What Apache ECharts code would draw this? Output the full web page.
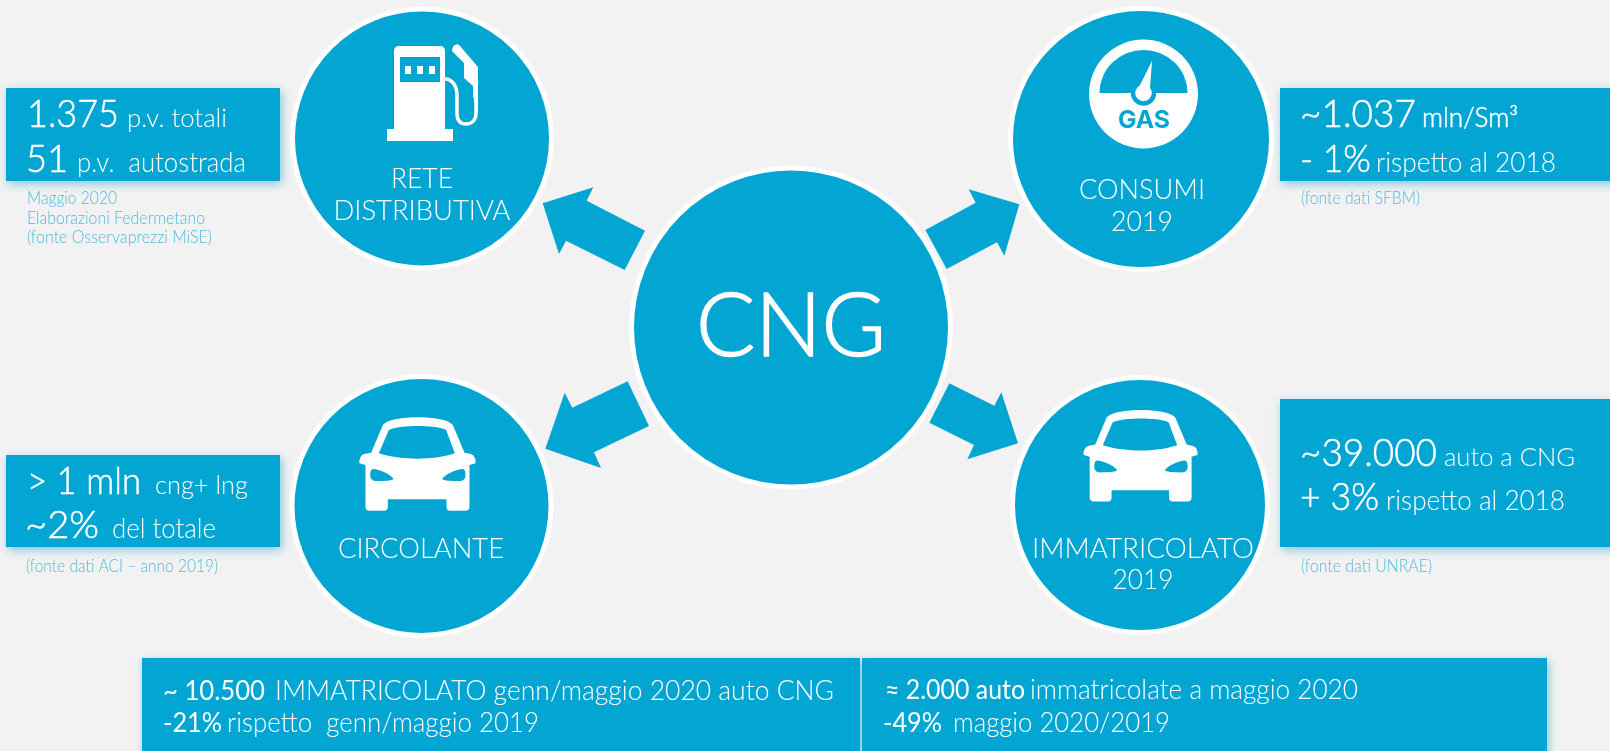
<!DOCTYPE html>
<html>
<head>
<meta charset="utf-8">
<script src="https://cdn.jsdelivr.net/npm/echarts@6/dist/echarts.min.js"></script>
<style>html,body{margin:0;padding:0;background:#f2f2f2}</style>
</head>
<body>
<div id="main" style="width:1610px;height:751px"></div>
<script type="text/javascript">
    var myChart = echarts.init(document.getElementById('main'));

    // testi
    var hubName = ['CNG'];
    var reteName = ['RETE', 'DISTRIBUTIVA'];
    var consumiName = ['CONSUMI', '2019'];
    var circolanteName = ['CIRCOLANTE'];
    var immatricolatoName = ['IMMATRICOLATO', '2019'];
    var reteValues = ['1.375', 'p.v. totali', '51', 'p.v.  autostrada'];
    var consumiValues = ['~1.037', 'mln/Sm³', '- 1%', 'rispetto al 2018'];
    var circolanteValues = ['> 1 mln', 'cng+ lng', '~2%', 'del totale'];
    var immatricolatoValues = ['~39.000', 'auto a CNG', '+ 3%', 'rispetto al 2018'];
    var genMagValues = ['~ 10.500', 'IMMATRICOLATO genn/maggio 2020 auto CNG', '-21%', 'rispetto  genn/maggio 2019'];
    var maggioValues = ['≈ 2.000 auto', 'immatricolate a maggio 2020', '-49%', 'maggio 2020/2019'];
    var reteNotes = ['Maggio 2020', 'Elaborazioni Federmetano', '(fonte Osservaprezzi MiSE)'];
    var consumiNotes = ['(fonte dati SFBM)'];
    var circolanteNotes = ['(fonte dati ACI – anno 2019)'];
    var immatricolatoNotes = ['(fonte dati UNRAE)'];

    var BLUE = '#03a6d2';
    var NOTE = '#4fbbd9';
    var els = [];
    var shapeCount = 0;
    var ruler = document.createElement('canvas').getContext('2d');

    // w = larghezza voluta: il testo originale e' piu' stretto di Lato
    function txt(x, base, s, size, w, color, weight, align, family, thick) {
        weight = weight || 300;
        family = family || 'Lato';
        color = color || '#fff';
        ruler.font = weight + ' ' + size + 'px ' + family;
        els.push({
            type: 'text',
            z: 5,
            x: x,
            y: base - size * 0.33,
            scaleX: w / ruler.measureText(s).width,
            style: {
                x: 0,
                y: 0,
                text: s,
                fill: color,
                stroke: thick ? color : null,
                lineWidth: thick || 0,
                fontFamily: family,
                fontSize: size,
                fontWeight: weight,
                align: align || 'left',
                textAlign: align || 'left',
                verticalAlign: 'middle',
                textVerticalAlign: 'middle'
            }
        });
    }

    // cifre grandi, un po' piu' piene del Light
    function big(x, base, s, w) {
        txt(x - 2, base, s, 38, w + 3, '#fff', 300, 'left', 'Lato', 0.5);
    }

    function box(x, y, w, h) {
        els.push({
            type: 'rect',
            z: 1,
            shape: { x: x, y: y, width: w, height: h },
            style: {
                fill: BLUE,
                shadowBlur: 9,
                shadowOffsetX: 2,
                shadowOffsetY: 3,
                shadowColor: 'rgba(3,150,190,0.45)'
            }
        });
    }

    function disc(cx, cy, r) {
        els.push({
            type: 'circle',
            z: 2,
            shape: { cx: cx, cy: cy, r: r },
            style: { fill: BLUE, stroke: '#fff', lineWidth: 5 }
        });
    }

    function arrow(points) {
        els.push({
            type: 'polygon',
            z: 2,
            shape: {
                points: points.map(function (p) {
                    return [530 + p[0] / 3, 150 + p[1] / 3];
                })
            },
            style: { fill: BLUE }
        });
    }

    // il componente graphic non ha type 'path': si registra una forma per ogni icona
    function icon(d, style, ox, oy, k) {
        var name = 'icon' + (shapeCount++);
        echarts.graphic.registerShape(name, echarts.graphic.extendPath(d, {}));
        els.push({
            type: name,
            z: 3,
            x: ox,
            y: oy,
            scaleX: k,
            scaleY: k,
            shape: {},
            style: style
        });
    }

    function car(ox, oy, k) {
        icon('M100 75C115 58 160 52 205 52C250 52 295 58 310 75L345 158L365 162C375 166 380 180 378 190L360 195V320C360 328 355 332 348 332H302C295 332 291 328 291 320V298H115V320C115 328 111 332 104 332H60C53 332 48 328 48 320V195L30 190C28 180 33 166 43 162L65 158Z', { fill: '#fff' }, ox, oy, k);
        icon('M118 90C140 80 175 78 205 78C235 78 270 80 290 90L316 160C280 172 240 176 205 176C170 176 125 172 88 160Z', { fill: BLUE }, ox, oy, k);
        icon('M72 207C95 210 120 222 132 236C128 242 110 243 80 243C68 243 62 236 62 225C62 214 65 207 72 207Z', { fill: BLUE }, ox, oy, k);
        icon('M338 207C315 210 290 222 278 236C282 242 300 243 330 243C342 243 348 236 348 225C348 214 345 207 338 207Z', { fill: BLUE }, ox, oy, k);
    }

    function pump() {
        icon('M394 129V51C394 48 396 46 399 46H440C443 46 445 48 445 51V129H453V141H387V129Z', { fill: '#fff' }, 0, 0, 1);
        icon('M400 57H440V82H400Z', { fill: BLUE }, 0, 0, 1);
        icon('M405 66H411V74H405ZM417 66H423V74H417ZM429 66H435V74H429Z', { fill: '#fff' }, 0, 0, 1);
        // pistola
        icon('M453 52C451 50 453 46 455 45C457 44 458 44 460 46L478 67V113L473 96V86L464 78V63Z', { fill: '#fff' }, 0, 0, 1);
        icon('M445 79C452 79 457 86 457 95V113C457 120 460 124 466 124C472 124 476 120 476 113V100', { fill: 'none', stroke: '#fff', lineWidth: 3.5 }, 0, 0, 1);
    }

    function gauge() {
        els.push({ type: 'circle', z: 3, shape: { cx: 1143.5, cy: 94, r: 54.5 }, style: { fill: '#fff' } });
        icon('M1099.5 93A44 43 0 0 1 1187.5 93Z', { fill: BLUE }, 0, 0, 1);
        els.push({ type: 'circle', z: 3, shape: { cx: 1143.5, cy: 93, r: 12.7 }, style: { fill: BLUE } });
        els.push({ type: 'circle', z: 3, shape: { cx: 1143.5, cy: 93, r: 8.3 }, style: { fill: '#fff' } });
        els.push({ type: 'polygon', z: 3, shape: { points: [[1152, 61], [1150, 88], [1139, 87]] }, style: { fill: '#fff' } });
        txt(1144, 129, 'GAS', 24, 52, BLUE, 700, 'center', 'Inter');
    }

    // fondo, riquadri
    box(6, 88, 274, 93);
    box(1280, 88, 340, 93);
    box(6, 455, 274, 92);
    box(1280, 399, 340, 148);
    box(142, 658, 718, 100);
    box(862, 658, 685, 100);

    // cerchi e frecce
    disc(422, 138.5, 129.5);
    disc(1141, 139, 130.5);
    disc(421.5, 506, 129.5);
    disc(1140, 505, 127.5);
    disc(791, 327.5, 159.5);
    arrow([[38, 160], [190, 112], [170, 152], [345, 242], [284, 360], [108, 272], [87, 312]]);
    arrow([[1468, 163], [1423, 317], [1401, 277], [1250, 357], [1186, 240], [1337, 158], [1316, 118]]);
    arrow([[46, 896], [104, 728], [127, 773], [293, 694], [357, 828], [192, 907], [213, 954]]);
    arrow([[1464, 880], [1312, 928], [1332, 885], [1198, 818], [1258, 700], [1393, 767], [1414, 727]]);

    // icone
    pump();
    gauge();
    car(349.5, 400, 1 / 3);
    car(1074, 393, 0.98 / 3);

    // nomi nei cerchi
    txt(791, 357, hubName[0], 88, 190, '#fff', 300, 'center', 'Lato', 1.5);
    txt(422, 188, reteName[0], 27, 62, '#fff', 300, 'center');
    txt(422, 220, reteName[1], 27, 177, '#fff', 300, 'center');
    txt(1142, 199, consumiName[0], 27, 126, '#fff', 300, 'center');
    txt(1142, 231, consumiName[1], 27, 62, '#fff', 300, 'center');
    txt(421, 558, circolanteName[0], 27, 166, '#fff', 300, 'center');
    txt(1143, 558, immatricolatoName[0], 27, 222, '#fff', 300, 'center');
    txt(1143, 589, immatricolatoName[1], 27, 61, '#fff', 300, 'center');

    // valori
    big(29, 127, reteValues[0], 89);
    txt(127, 127, reteValues[1], 26, 100);
    big(28, 172, reteValues[2], 39);
    txt(77, 172, reteValues[3], 27, 169);

    big(1302, 127, consumiValues[0], 113);
    txt(1422, 127, consumiValues[1], 27, 96, '#fff', 300, 'left', 'Lato', 0.5);
    big(1302, 172, consumiValues[2], 68);
    txt(1376, 172, consumiValues[3], 27, 180);

    big(29, 494, circolanteValues[0], 111);
    txt(155, 494, circolanteValues[1], 26, 93);
    big(27, 538, circolanteValues[2], 71);
    txt(112, 538, circolanteValues[3], 27, 104);

    big(1302, 466, immatricolatoValues[0], 134);
    txt(1444, 466, immatricolatoValues[1], 26, 131);
    big(1302, 510, immatricolatoValues[2], 76);
    txt(1386, 510, immatricolatoValues[3], 27, 179);

    txt(163, 700, genMagValues[0], 27, 102, '#fff', 400);
    txt(275, 700, genMagValues[1], 27, 559);
    txt(163, 732, genMagValues[2], 27, 59, '#fff', 400);
    txt(227, 732, genMagValues[3], 27, 312);

    txt(885, 699, maggioValues[0], 27, 140, '#fff', 400);
    txt(1030, 699, maggioValues[1], 27, 328);
    txt(883, 732, maggioValues[2], 27, 59, '#fff', 400);
    txt(953, 732, maggioValues[3], 27, 217);

    // note
    txt(27, 204, reteNotes[0], 17, 90, NOTE);
    txt(27, 224, reteNotes[1], 17, 178, NOTE);
    txt(27, 243, reteNotes[2], 17, 185, NOTE);
    txt(1301, 204, consumiNotes[0], 17, 119, NOTE);
    txt(26, 572, circolanteNotes[0], 17, 192, NOTE);
    txt(1301, 572, immatricolatoNotes[0], 17, 131, NOTE);

    var option = {
        backgroundColor: '#f2f2f2',
        animation: false,
        graphic: { elements: els }
    };
    myChart.setOption(option);
</script>
</body>
</html>
